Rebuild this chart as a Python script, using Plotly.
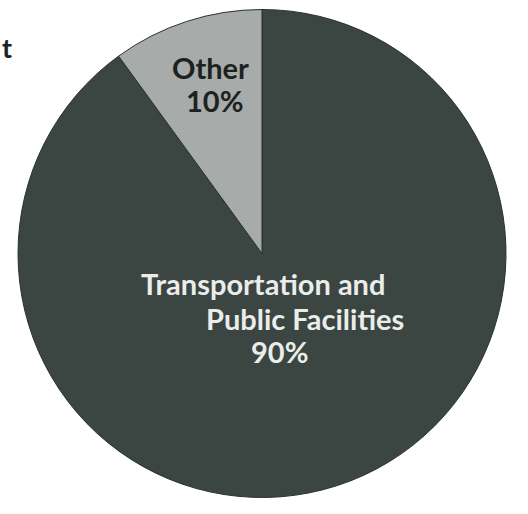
import plotly.graph_objects as go

labels = ["Transportation and Public Facilities", "Other"]
values = [90, 10]
colors = ["#3b4541", "#a7abaa"]
label_lines = [["Transportation and", "Public Facilities"], ["Other"]]
pct_text = ["90%", "10%"]

W, H = 528, 514

fig = go.Figure(go.Pie(
    labels=labels, values=values, sort=False, direction="clockwise", rotation=0,
    marker=dict(colors=colors, line=dict(color="#2b3230", width=1)),
    textinfo="none", hoverinfo="label+percent", showlegend=False,
    domain=dict(x=[18 / W, 506 / W], y=[1 - 501 / H, 1 - 6 / H]),
))

font_fam = "Lato, 'Open Sans', sans-serif"

def px(x, y):
    return x / W, 1 - y / H

anns = []
def add(txt, x, y, color, size=29, xanchor="center"):
    ax, ay = px(x, y)
    anns.append(dict(text=f"<b>{txt}</b>", x=ax, y=ay, xref="paper", yref="paper",
                     xanchor=xanchor, yanchor="middle", showarrow=False,
                     font=dict(family=font_fam, size=size, color=color)))

add(label_lines[1][0], 210, 68, "#1c2220")
add(pct_text[1], 214, 101, "#1c2220")
add(label_lines[0][0], 263, 283, "#eaedea")
add(label_lines[0][1], 305, 318, "#eaedea")
add(pct_text[0], 279, 351, "#eaedea")
# title fragment at the left edge
add("t", 0, 47, "#1c2220", size=27, xanchor="left")

fig.update_layout(width=W, height=H, margin=dict(l=0, r=0, t=0, b=0),
                  paper_bgcolor="white", plot_bgcolor="white", annotations=anns)

fig.write_html("out.html", config={"displayModeBar": False},
               post_script="document.body.style.margin='0';")
